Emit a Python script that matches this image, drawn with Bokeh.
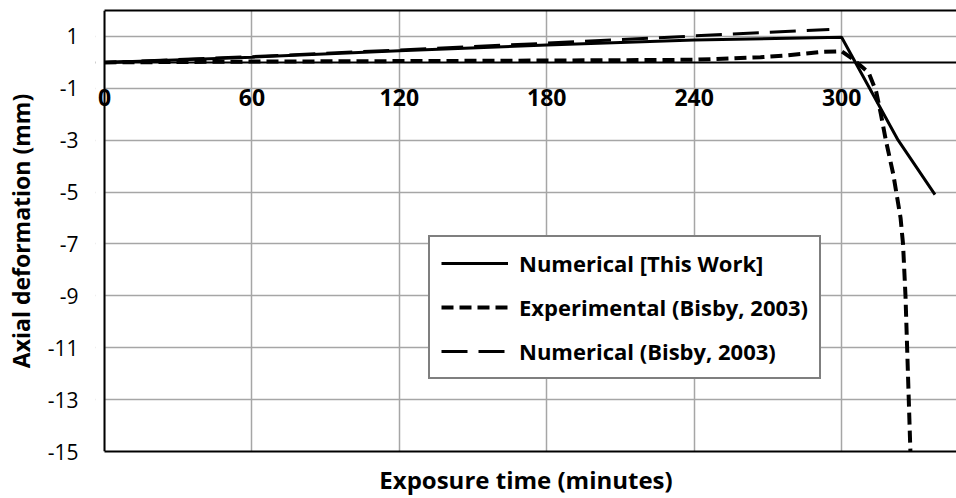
from bokeh.plotting import figure
from bokeh.models import (FixedTicker, LinearAxis, Span, Legend, LegendItem, Range1d,
                          Label, BoxAnnotation)
from bokeh.embed import file_html
from bokeh.resources import INLINE

# Axial deformation (mm) against fire exposure time (minutes)
t_this_work = [0, 60, 120, 180, 240, 300, 323, 338]
d_this_work = [0, 0.2, 0.45, 0.67, 0.86, 0.97, -3.0, -5.1]

t_experimental = [0, 60, 120, 180, 240, 267, 278, 291, 300, 305, 311, 314,
                  316, 318, 321, 324, 325, 326, 327, 328]
d_experimental = [0, 0.03, 0.05, 0.07, 0.1, 0.2, 0.27, 0.4, 0.43, 0.1, -0.4, -1.1,
                  -2.0, -3.0, -4.3, -6.0, -7.0, -9.0, -12.0, -15.0]

t_bisby = [0, 60, 120, 180, 240, 295]
d_bisby = [0, 0.22, 0.48, 0.74, 1.02, 1.27]

x_ticks = [0, 60, 120, 180, 240, 300]
x_tick_labels = ["0", "60", "120", "180", "240", "300"]
y_ticks = [-15, -13, -11, -9, -7, -5, -3, -1, 1]

FONT = "Open Sans"
X_END = 346.76
# a little room left of t = 0 so the "0" label is not cut by the frame
X_PAD = -3.66

p = figure(width=956, height=498, output_backend="svg", toolbar_location=None,
           x_range=Range1d(X_PAD, X_END), y_range=Range1d(-15, 2),
           min_border_left=95, min_border_right=0, min_border_top=10,
           min_border_bottom=46, x_axis_location=None, y_axis_location=None)
p.outline_line_color = None
p.background_fill_color = "white"
p.border_fill_color = "white"

# left axis: values (plain hyphen minus) and title; its edge is drawn at t = 0
yaxis = LinearAxis(ticker=FixedTicker(ticks=y_ticks),
                   major_label_overrides={v: str(v) for v in y_ticks},
                   axis_label="Axial deformation (mm)",
                   axis_line_color=None,
                   major_tick_out=0, major_tick_in=0,
                   minor_tick_out=0, minor_tick_in=0,
                   major_label_standoff=17,
                   major_label_text_font=FONT, major_label_text_font_size="21px",
                   major_label_text_color="black",
                   axis_label_text_font=FONT, axis_label_text_font_size="23px",
                   axis_label_text_font_style="bold", axis_label_text_color="black",
                   axis_label_standoff=8)
p.add_layout(yaxis, "left")

# bottom frame edge with the time title
xaxis = LinearAxis(ticker=FixedTicker(ticks=[]), bounds=(0, X_END),
                   axis_label="Exposure time (minutes)",
                   axis_line_color="black", axis_line_width=2,
                   major_tick_out=0, major_tick_in=0,
                   minor_tick_out=0, minor_tick_in=0,
                   major_label_text_font_size="0px", major_label_standoff=0,
                   axis_label_text_font=FONT, axis_label_text_font_size="24px",
                   axis_label_text_font_style="bold", axis_label_text_color="black",
                   axis_label_standoff=11)
p.add_layout(xaxis, "below")

# top frame edge
topaxis = LinearAxis(ticker=FixedTicker(ticks=[]), bounds=(0, X_END),
                     axis_line_color="black", axis_line_width=2,
                     major_tick_out=0, major_tick_in=0,
                     minor_tick_out=0, minor_tick_in=0,
                     major_label_text_font_size="0px", major_label_standoff=0)
p.add_layout(topaxis, "above")

p.xgrid.ticker = FixedTicker(ticks=x_ticks)
p.ygrid.ticker = FixedTicker(ticks=y_ticks)
for g in (p.xgrid, p.ygrid):
    g.grid_line_color = "#a6a6a6"
    g.grid_line_width = 1.5

# horizontal axis crossing at zero deformation
p.add_layout(Span(location=0, dimension="width", line_color="black", line_width=2))
# keep the strip left of t = 0 blank
p.add_layout(BoxAnnotation(right=0, fill_color="white", fill_alpha=1,
                           line_color=None))
# vertical axis line at t = 0
p.add_layout(Span(location=0, dimension="height", line_color="black", line_width=2))

# time labels sit just under the zero line
for xv, lab in zip(x_ticks, x_tick_labels):
    p.add_layout(Label(x=xv, y=0, text=lab, y_offset=-35,
                       text_font=FONT, text_font_size="23px", text_font_style="bold",
                       text_color="black", text_align="center",
                       text_baseline="middle"))

r_this = p.line(t_this_work, d_this_work, line_color="black", line_width=3)
r_exp = p.line(t_experimental, d_experimental, line_color="black", line_width=4,
               line_dash="12 6")
r_bisby = p.line(t_bisby, d_bisby, line_color="black", line_width=3,
                 line_dash="26 11")

legend = Legend(items=[
    LegendItem(label="Numerical [This Work]", renderers=[r_this]),
    LegendItem(label="Experimental (Bisby, 2003)", renderers=[r_exp]),
    LegendItem(label="Numerical (Bisby, 2003)", renderers=[r_bisby]),
], location=(333, 72))
legend.label_text_font = FONT
legend.label_text_font_size = "22px"
legend.label_text_font_style = "bold"
legend.label_text_color = "black"
legend.glyph_width = 67
legend.glyph_height = 26
legend.label_height = 26
legend.label_standoff = 11
legend.spacing = 14
legend.padding = 11
legend.margin = 0
legend.border_line_color = "black"
legend.border_line_width = 2
legend.background_fill_alpha = 1
p.add_layout(legend, "center")

open("out.html", "w").write(file_html(p, INLINE))
